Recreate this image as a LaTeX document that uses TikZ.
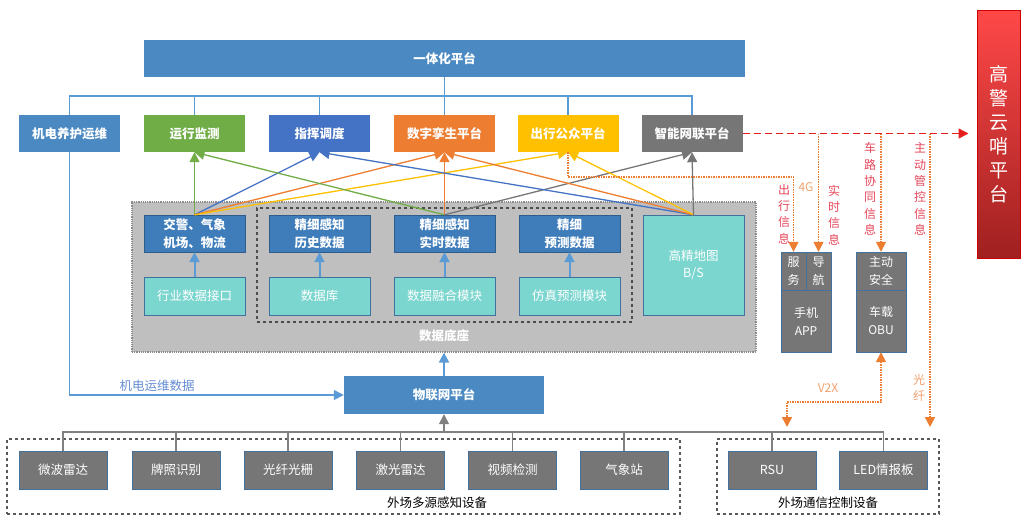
\documentclass[tikz,border=0pt]{standalone}
\usepackage{fontspec}
\setmainfont{Noto Sans CJK SC}
\usetikzlibrary{arrows.meta}
\definecolor{topblue}{RGB}{74,137,194}
\definecolor{datablue}{RGB}{62,124,186}
\definecolor{cgreen}{RGB}{112,173,71}
\definecolor{cblue}{RGB}{68,114,196}
\definecolor{corange}{RGB}{237,125,49}
\definecolor{cyellow}{RGB}{255,192,0}
\definecolor{cgray}{RGB}{118,118,118}
\definecolor{cteal}{RGB}{122,214,206}
\definecolor{basegray}{RGB}{191,191,191}
\definecolor{lineblue}{RGB}{91,155,213}
\definecolor{edgeblue}{RGB}{65,113,156}
\definecolor{redline}{RGB}{230,30,30}
\definecolor{redtext}{RGB}{228,70,90}
\definecolor{lightorange}{RGB}{240,160,110}
\definecolor{textblue}{RGB}{100,140,210}
\definecolor{redtop}{RGB}{255,72,72}
\definecolor{redbottom}{RGB}{160,32,32}
\tikzset{
	>={Triangle[length=10pt,width=10pt]},
	box/.style={rectangle, minimum width=101pt, minimum height=37pt, inner sep=0pt,
		align=center, text=white, font=\fontsize{12.5}{18}\selectfont\bfseries},
	dbox/.style={box, fill=datablue, draw=datablue!75!black},
	tbox/.style={rectangle, minimum width=101pt, minimum height=38pt, inner sep=0pt,
		align=center, text=white, fill=cteal, draw=edgeblue,
		font=\fontsize{12.5}{17}\selectfont},
	dev/.style={tbox, minimum width=88pt, fill=cgray},
	apart/.style={tbox, fill=cgray, minimum height=38pt, font=\fontsize{12}{18}\selectfont},
	group/.style={rectangle, draw=black!65, dashed, line width=1.2pt, inner sep=0pt},
	glabel/.style={font=\fontsize{12.5}{15}\selectfont},
	vlabel/.style={align=center, inner sep=0pt, text=redtext, font=\fontsize{12}{16.4}\selectfont},
	olabel/.style={vlabel, text=lightorange},
	bluebus/.style={draw=lineblue, line width=1.5pt},
	graybus/.style={draw=black!50, line width=1.5pt},
	link/.style={line width=1.3pt, ->},
	uparrow/.style={draw=lineblue, line width=2pt, ->},
	odot/.style={draw=corange, densely dotted, line width=1.5pt},
	reddash/.style={draw=redline, dash pattern=on 7pt off 4pt, line width=1.5pt},
}
\begin{document}
\begin{tikzpicture}[x=1pt, y=-1pt]
	\useasboundingbox (0,0) rectangle (1028,528);
	
	\node[box, minimum width=601pt, fill=topblue] at (444.5,58.5) (ytpt) {一体化平台};
	\node[box, fill=topblue] at (69.5,133.5) (jdyw) {机电养护运维};
	\node[box, fill=cgreen] at (194.5,133.5) (yxjc) {运行监测};
	\node[box, fill=cblue] at (319.5,133.5) (zhdd) {指挥调度};
	\node[box, fill=corange] at (444.5,133.5) (szls) {数字孪生平台};
	\node[box, fill=cyellow] at (568,133.5) (cxgz) {出行公众平台};
	\node[box, fill=cgray] at (692,133.5) (znwl) {智能网联平台};
	
	\draw[bluebus] (jdyw.north) -- ++(0,-19) -| (znwl.north);
	\foreach \n in {yxjc, zhdd, szls, cxgz}
		\draw[bluebus] (\n.north) -- ++(0,-19);
	\draw[bluebus] (ytpt.south) -- (ytpt.south |- 0,96);
	
	\node[rectangle, fill=basegray, draw=black!45, densely dotted, line width=1.2pt,
		minimum width=624pt, minimum height=150pt] at (444,277) (sjdz) {};
	\node[box, font=\fontsize{12.5}{15}\selectfont\bfseries] at (444,336) (sjdzl) {数据底座};
	\node[group, draw=black!70, minimum width=375pt, minimum height=114pt] at (444.5,265) (jxgz) {};
	
	\node[dbox] at (194.5,233.5) (jqqx) {交警、气象\\机场、物流};
	\node[dbox] at (319.5,233.5) (lssj) {精细感知\\历史数据};
	\node[dbox] at (444.5,233.5) (sssj) {精细感知\\实时数据};
	\node[dbox] at (569.5,233.5) (ycsj) {精细\\预测数据};
	\node[tbox] at (194.5,296) (hysj) {行业数据接口};
	\node[tbox] at (319.5,296) (sjk) {数据库};
	\node[tbox] at (444.5,296) (sjrh) {数据融合模块};
	\node[tbox] at (569.5,296) (fzyc) {仿真预测模块};
	\node[tbox, minimum height=100pt] at (693.5,265) (gjdt) {高精地图\\B/S};
	
	\foreach \a/\b in {hysj/jqqx, sjk/lssj, sjrh/sssj, fzyc/ycsj}
		\draw[uparrow] (\a.north) -- (\b.south);
	
	\foreach \s/\t/\c in {jqqx/yxjc/cgreen, jqqx/zhdd/cblue, jqqx/szls/corange, jqqx/cxgz/cyellow,
		sssj/yxjc/cgreen, sssj/szls/corange, sssj/znwl/cgray,
		gjdt/zhdd/cblue, gjdt/szls/corange, gjdt/cxgz/cyellow, gjdt/znwl/cgray}
		\draw[link, \c] (\s.north) -- (\t.south);
	
	\node[box, minimum width=200pt, minimum height=38pt, fill=topblue] at (444,395) (wlw) {物联网平台};
	\draw[uparrow] (wlw.north) -- (sjdz.south);
	\draw[bluebus, ->] (jdyw.south) |- (wlw.west);
	\node[glabel, text=textblue] at (157,386) (jdsj) {机电运维数据};
	
	\node[group, minimum width=673pt, minimum height=75pt] at (343.5,476.5) (dyzz) {};
	\node[glabel] at (437,503) (dyzzl) {外场多源感知设备};
	\node[group, minimum width=222pt, minimum height=75pt] at (828,476.5) (txkz) {};
	\node[glabel] at (828,503) (txkzl) {外场通信控制设备};
	
	\foreach \n/\x/\t in {wbld/63/微波雷达, pzsb/176/牌照识别, gxgs/288/光纤光栅, jgld/400.5/激光雷达,
		spjc/512.5/视频检测, qxz/624/气象站, rsu/772/RSU, led/883.5/LED情报板}
		\node[dev] at (\x,470) (\n) {\t};
	\draw[graybus] (wbld.north) -- ++(0,-19) -| (led.north);
	\foreach \n in {pzsb, gxgs, jgld, spjc, qxz, rsu}
		\draw[graybus] (\n.north) -- ++(0,-19);
	\draw[graybus, ->] (wlw.south |- 0,432) -- (wlw.south);
	
	\node[apart, minimum width=25pt] at (793.5,271) (fw) {服\\务};
	\node[apart, minimum width=25pt] at (818.5,271) (dh) {导\\航};
	\node[apart, minimum width=50pt, minimum height=62pt] at (806,321) (sjapp) {手机\\APP};
	\node[apart, minimum width=50pt] at (881,271) (zdaq) {主动\\安全};
	\node[apart, minimum width=50pt, minimum height=62pt] at (881,321) (czobu) {车载\\OBU};
	
	\node[rectangle, top color=redtop, bottom color=redbottom, draw=red!80!black, line width=1pt,
		minimum width=43pt, minimum height=248pt, align=center, text=white,
		font=\fontsize{19}{24}\selectfont] at (998.5,134) (gjys) {高\\警\\云\\哨\\平\\台};
	
	\coordinate (gxd) at (930,427);
	\coordinate (v2xd) at (787,427);
	\draw[odot, ->] (cxgz.south) -- ++(0,25) -| (fw.north);
	\draw[odot, ->] (dh.north |- znwl.east) -- (dh.north);
	\draw[odot, ->] (zdaq.north |- znwl.east) -- (zdaq.north);
	\draw[odot, ->] (gxd |- znwl.east) -- (gxd);
	\draw[odot, <->] (czobu.south) -- ++(0,50) -| (v2xd);
	\draw[reddash, ->, shorten >=8pt] (znwl.east) -- (znwl.east -| gjys.west);
	
	\node[vlabel] at (784,214) (cxxx) {出\\行\\信\\息};
	\node[olabel] at (806,187) (sg) {4G};
	\node[vlabel] at (834,215) (ssxx) {实\\时\\信\\息};
	\node[vlabel] at (870,189) (clxt) {车\\路\\协\\同\\信\\息};
	\node[vlabel] at (920,189) (zdgk) {主\\动\\管\\控\\信\\息};
	\node[olabel] at (919,388) (gxl) {光\\纤};
	\node[olabel] at (828,388) (v2x) {V2X};
\end{tikzpicture}
\end{document}
